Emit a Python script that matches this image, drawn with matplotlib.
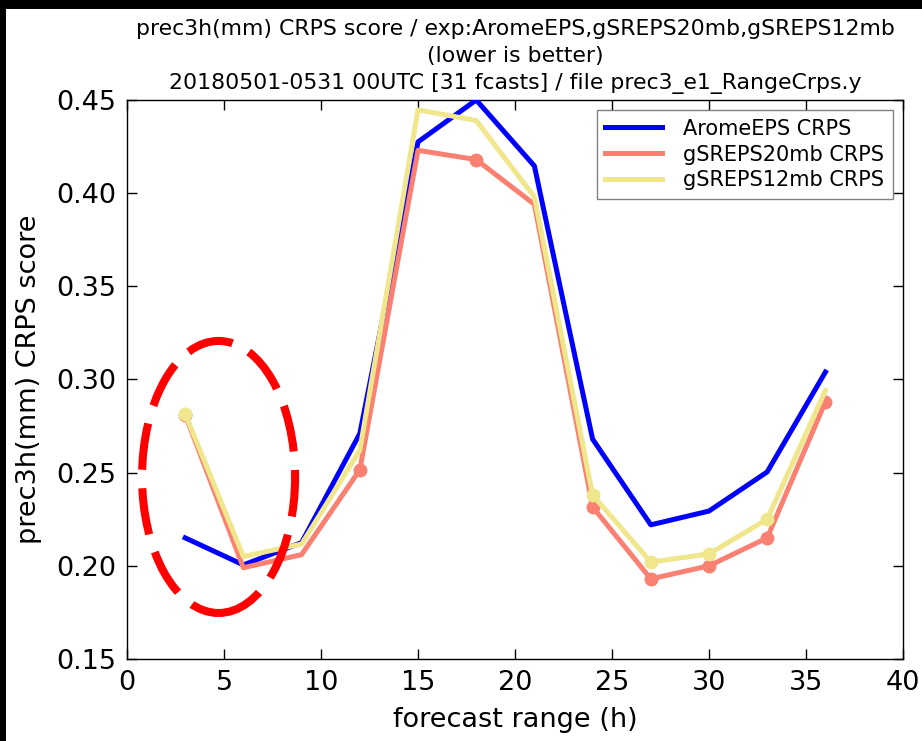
import matplotlib
matplotlib.use("Agg")
import matplotlib.pyplot as plt
from matplotlib.patches import Ellipse, Rectangle

# ---- data ----
ranges = [3, 6, 9, 12, 15, 18, 21, 24, 27, 30, 33, 36]
arome = [0.215, 0.2005, 0.2125, 0.271, 0.4275, 0.450, 0.4146, 0.268, 0.222, 0.2294, 0.2504, 0.304]
sreps20 = [0.281, 0.199, 0.206, 0.2515, 0.423, 0.418, 0.394, 0.2316, 0.193, 0.200, 0.215, 0.288]
sreps12 = [0.2815, 0.205, 0.2117, 0.262, 0.4447, 0.439, 0.398, 0.238, 0.202, 0.2064, 0.225, 0.294]
sreps20_marked = [3, 12, 18, 24, 27, 30, 33, 36]
sreps12_marked = [3, 24, 27, 30, 33]
labels = ["AromeEPS CRPS", "gSREPS20mb CRPS", "gSREPS12mb CRPS"]
colors = ["#0000ff", "#fa8072", "#f0e68c"]
title = ("prec3h(mm) CRPS score / exp:AromeEPS,gSREPS20mb,gSREPS12mb\n"
         "(lower is better)\n"
         "20180501-0531 00UTC [31 fcasts] / file prec3_e1_RangeCrps.y")

fig = plt.figure(figsize=(9.22, 7.41), dpi=100, facecolor="white")
ax = fig.add_axes([127/922, 1-659/741, (903-127)/922, (659-100)/741])

lw = 3.6
ax.plot(ranges, arome, color=colors[0], lw=lw, label=labels[0], zorder=3)
ax.plot(ranges, sreps20, color=colors[1], lw=lw, label=labels[1], zorder=3)
m20 = [sreps20[ranges.index(r)] for r in sreps20_marked]
ax.plot(sreps20_marked, m20, "o", color=colors[1], ms=9, mec=colors[1], zorder=3)
ax.plot(ranges, sreps12, color=colors[2], lw=lw, label=labels[2], zorder=4)
m12 = [sreps12[ranges.index(r)] for r in sreps12_marked]
ax.plot(sreps12_marked, m12, "o", color=colors[2], ms=9, mec=colors[2], zorder=4)

ell = Ellipse((4.72, 0.2477), 7.89, 0.146, fill=False, edgecolor="red",
              lw=5.8, linestyle=(0, (5.8, 2.3)), zorder=5, clip_on=False)
ax.add_patch(ell)

ax.set_xlim(0, 40)
ax.set_ylim(0.15, 0.45)
ax.set_xticks(range(0, 41, 5))
ax.set_yticks([0.15, 0.20, 0.25, 0.30, 0.35, 0.40, 0.45])
ax.set_yticklabels(["0.15", "0.20", "0.25", "0.30", "0.35", "0.40", "0.45"])
ax.tick_params(direction="in", top=True, right=True, length=7, width=1,
               labelsize=19.5, pad=8)
for s in ax.spines.values():
    s.set_linewidth(1)
ax.set_xlabel("forecast range (h)", fontsize=19.5, labelpad=8)
ax.set_ylabel("prec3h(mm) CRPS score", fontsize=19.5, labelpad=10)
ax.set_title(title, fontsize=15.8, pad=8, linespacing=1.42)

leg = ax.legend(loc="upper right", fontsize=15, handlelength=2.75,
                fancybox=False, framealpha=1, edgecolor="#808080",
                borderaxespad=0.5, labelspacing=0.28, handletextpad=1.0,
                borderpad=0.4)
leg.get_frame().set_linewidth(1)

# black screenshot border (top and left)
fig.patches.append(Rectangle((0, 1-9/741), 1, 9/741, transform=fig.transFigure,
                             facecolor="black", edgecolor="none", zorder=10))
fig.patches.append(Rectangle((0, 0), 6/922, 1, transform=fig.transFigure,
                             facecolor="black", edgecolor="none", zorder=10))

fig.savefig("out.png", dpi=100, facecolor=fig.get_facecolor())
